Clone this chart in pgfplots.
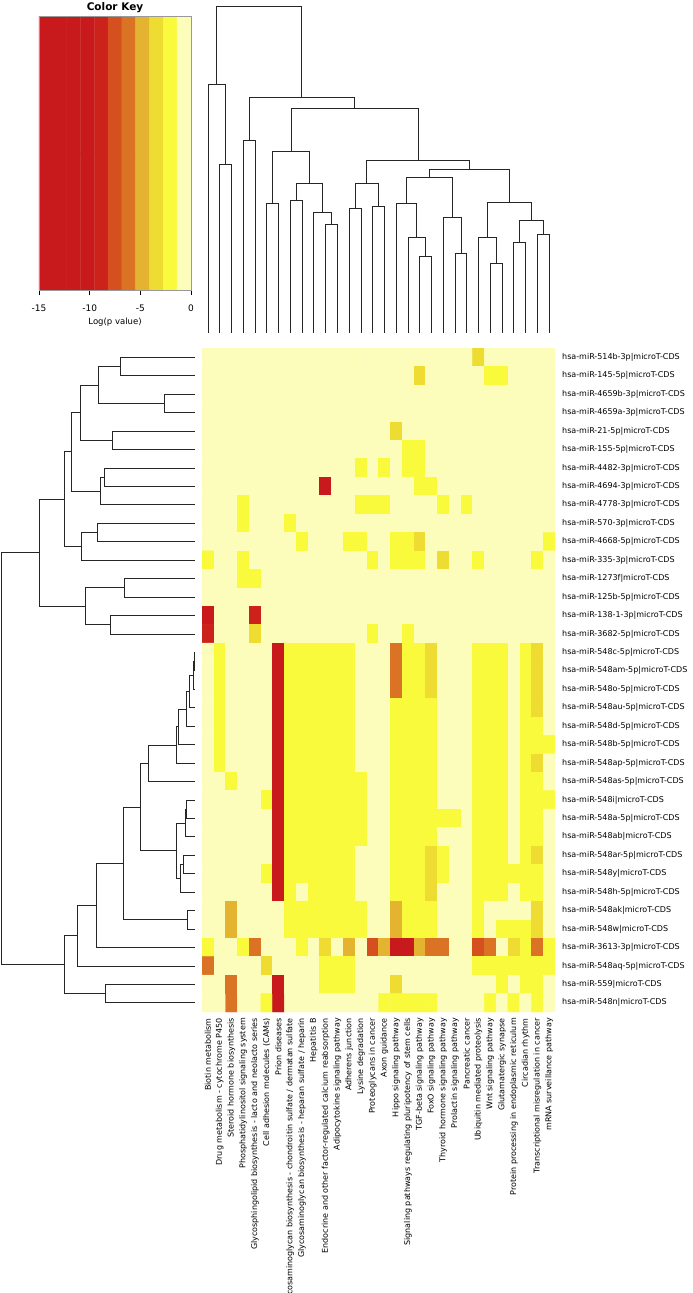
\documentclass[border=0pt]{standalone}
\usepackage{fontspec}
\setmainfont{DejaVu Sans}
\usepackage{pgfplots}
\pgfplotsset{compat=1.18}
\pgfplotsset{
  colormap={heatkey}{
    rgb255=(200,26,28) rgb255=(200,26,28) rgb255=(200,26,28) rgb255=(200,26,28)
    rgb255=(204,34,28) rgb255=(213,80,30) rgb255=(218,115,35) rgb255=(228,180,48)
    rgb255=(238,220,51) rgb255=(250,250,60) rgb255=(253,253,187)
  },
}
% heatmap values: log(p value), one row per miRNA, 30 pathways
\gdef\heatcoords{}
\newcommand\heatrow[2]{\foreach \vi [count=\ci] in {#2} {\xdef\heatcoords{\heatcoords (\ci,#1)[\vi]}}}
\heatrow{1}{0,0,0,0,0,0,0,0,0,0, 0,0,0,0,0,0,0,0,0,0, 0,0,0,-3.4,0,0,0,0,0,0}
\heatrow{2}{0,0,0,0,0,0,0,0,0,0, 0,0,0,0,0,0,0,0,-3.4,0, 0,0,0,0,-2,-2,0,0,0,0}
\heatrow{3}{0,0,0,0,0,0,0,0,0,0, 0,0,0,0,0,0,0,0,0,0, 0,0,0,0,0,0,0,0,0,0}
\heatrow{4}{0,0,0,0,0,0,0,0,0,0, 0,0,0,0,0,0,0,0,0,0, 0,0,0,0,0,0,0,0,0,0}
\heatrow{5}{0,0,0,0,0,0,0,0,0,0, 0,0,0,0,0,0,-3.4,0,0,0, 0,0,0,0,0,0,0,0,0,0}
\heatrow{6}{0,0,0,0,0,0,0,0,0,0, 0,0,0,0,0,0,0,-2,-2,0, 0,0,0,0,0,0,0,0,0,0}
\heatrow{7}{0,0,0,0,0,0,0,0,0,0, 0,0,0,-2,0,-2,0,-2,-2,0, 0,0,0,0,0,0,0,0,0,0}
\heatrow{8}{0,0,0,0,0,0,0,0,0,0, -12,0,0,0,0,0,0,0,-2,-2, 0,0,0,0,0,0,0,0,0,0}
\heatrow{9}{0,0,0,-2,0,0,0,0,0,0, 0,0,0,-2,-2,-2,0,0,0,0, -2,0,-2,0,0,0,0,0,0,0}
\heatrow{10}{0,0,0,-2,0,0,0,-2,0,0, 0,0,0,0,0,0,0,0,0,0, 0,0,0,0,0,0,0,0,0,0}
\heatrow{11}{0,0,0,0,0,0,0,0,-2,0, 0,0,-2,-2,0,0,-2,-2,-3.4,0, 0,0,0,0,0,0,0,0,0,-2}
\heatrow{12}{-2,0,0,-2,0,0,0,0,0,0, 0,0,0,0,-2,0,-2,-2,-2,0, -3.4,0,0,-2,0,0,0,0,-2,0}
\heatrow{13}{0,0,0,-2,-2,0,0,0,0,0, 0,0,0,0,0,0,0,0,0,0, 0,0,0,0,0,0,0,0,0,0}
\heatrow{14}{0,0,0,0,0,0,0,0,0,0, 0,0,0,0,0,0,0,0,0,0, 0,0,0,0,0,0,0,0,0,0}
\heatrow{15}{-12,0,0,0,-8.9,0,0,0,0,0, 0,0,0,0,0,0,0,0,0,0, 0,0,0,0,0,0,0,0,0,0}
\heatrow{16}{-9,0,0,0,-3.4,0,0,0,0,0, 0,0,0,0,-2,0,0,-2,0,0, 0,0,0,0,0,0,0,0,0,0}
\heatrow{17}{0,-2,0,0,0,0,-12,-2,-2,-2, -2,-2,-2,0,0,0,-6.1,-2,-2,-3.4, 0,0,0,-2,-2,-2,0,-2,-3.4,0}
\heatrow{18}{0,-2,0,0,0,0,-12,-2,-2,-2, -2,-2,-2,0,0,0,-6.1,-2,-2,-3.4, 0,0,0,-2,-2,-2,0,-2,-3.4,0}
\heatrow{19}{0,-2,0,0,0,0,-12,-2,-2,-2, -2,-2,-2,0,0,0,-6.1,-2,-2,-3.4, 0,0,0,-2,-2,-2,0,-2,-3.4,0}
\heatrow{20}{0,-2,0,0,0,0,-12,-2,-2,-2, -2,-2,-2,0,0,0,-2,-2,-2,-2, 0,0,0,-2,-2,-2,0,-2,-3.4,0}
\heatrow{21}{0,-2,0,0,0,0,-12,-2,-2,-2, -2,-2,-2,0,0,0,-2,-2,-2,-2, 0,0,0,-2,-2,-2,0,-2,-2,0}
\heatrow{22}{0,-2,0,0,0,0,-12,-2,-2,-2, -2,-2,-2,0,0,0,-2,-2,-2,-2, 0,0,0,-2,-2,-2,0,-2,-2,-2}
\heatrow{23}{0,-2,0,0,0,0,-12,-2,-2,-2, -2,-2,-2,0,0,0,-2,-2,-2,-2, 0,0,0,-2,-2,-2,0,-2,-3.4,0}
\heatrow{24}{0,0,-2,0,0,0,-12,-2,-2,-2, -2,-2,-2,-2,0,0,-2,-2,-2,-2, 0,0,0,-2,-2,-2,0,-2,-2,0}
\heatrow{25}{0,0,0,0,0,-2,-12,-2,-2,-2, -2,-2,-2,-2,0,0,-2,-2,-2,-2, 0,0,0,-2,-2,-2,0,-2,-2,-2}
\heatrow{26}{0,0,0,0,0,0,-12,-2,-2,-2, -2,-2,-2,-2,0,0,-2,-2,-2,-2, -2,-2,0,-2,-2,-2,0,-2,-2,0}
\heatrow{27}{0,0,0,0,0,0,-12,-2,-2,-2, -2,-2,-2,-2,0,0,-2,-2,-2,-2, 0,0,0,-2,-2,-2,0,-2,-2,0}
\heatrow{28}{0,0,0,0,0,0,-12,-2,-2,-2, -2,-2,-2,0,0,0,-2,-2,-2,-3.4, -2,0,0,-2,-2,-2,0,-2,-3.4,0}
\heatrow{29}{0,0,0,0,0,-2,-12,-2,-2,-2, -2,-2,-2,0,0,0,-2,-2,-2,-3.4, -2,0,0,-2,-2,-2,-2,-2,-2,0}
\heatrow{30}{0,0,0,0,0,0,-12,-2,0,-2, -2,-2,-2,0,0,0,-2,-2,-2,-3.4, 0,0,0,-2,-2,-2,0,-2,-2,0}
\heatrow{31}{0,0,-4.8,0,0,0,0,-2,-2,-2, -2,-2,-2,-2,0,0,-4.8,-2,-2,-2, 0,0,0,-2,0,0,0,0,-3.4,0}
\heatrow{32}{0,0,-4.8,0,0,0,0,-2,-2,-2, -2,-2,-2,-2,0,0,-4.8,-2,-2,-2, 0,0,0,-2,0,-2,-2,-2,-3.4,0}
\heatrow{33}{-2,0,0,-2,-6.1,0,0,0,-2,0, -3.4,0,-4.8,0,-7.5,-4.8,-12,-12,-4.8,-6.1, -6.1,0,0,-8,-6.1,0,-3.4,-2,-6.1,-2}
\heatrow{34}{-6.1,0,0,0,0,-3.4,0,0,0,0, -2,-2,-2,0,0,0,0,0,0,0, 0,0,0,-2,-2,-2,-2,-2,-2,-2}
\heatrow{35}{0,0,-5.5,0,0,0,-12,0,0,0, -2,-2,-2,0,0,0,-3.4,0,0,0, 0,0,0,0,0,-2,0,-2,-2,0}
\heatrow{36}{0,0,-5.5,0,0,-2,-12,0,0,0, 0,0,0,0,0,-2,-2,-2,-2,-2, 0,0,0,0,-2,0,-2,0,-2,0}
\edef\heatplot{\noexpand\addplot[matrix plot*, point meta=explicit, mesh/cols=30, mesh/rows=36] coordinates {\heatcoords};}
\begin{document}
\begin{tikzpicture}
\path[use as bounding box] (0pt,0pt) rectangle (693pt,-1293pt);
% ---------------- Color key
\begin{axis}[at={(39pt,-16pt)}, anchor=north west, scale only axis, width=152pt, height=274pt,
  xmin=-15, xmax=0, ymin=0, ymax=1, enlargelimits=false,
  colormap name=heatkey, colormap access=piecewise constant, point meta min=-15, point meta max=0,
  xtick={-15,-10,-5,0}, xticklabels={-15,-10,-5,0}, ytick=\empty,
  xtick pos=left, tick align=outside, major tick length=5pt,
  tick style={black, line width=0.5pt},
  axis line style={gray!80, line width=0.5pt},
  xticklabel style={font=\fontsize{9}{10}\selectfont, inner sep=0pt, anchor=north},
  xticklabel shift=10pt,
  xlabel={Log(p value)}, xlabel style={font=\fontsize{8.5}{9}\selectfont, inner sep=0pt, at={(axis description cs:0.5,0)}, anchor=base, yshift=-34pt},
  axis on top]
\addplot[matrix plot*, point meta=explicit, mesh/cols=11, mesh/rows=2] coordinates {
(-14.318,0.25)[-14.318] (-12.955,0.25)[-12.955] (-11.591,0.25)[-11.591] (-10.227,0.25)[-10.227] (-8.864,0.25)[-8.864] (-7.5,0.25)[-7.5] (-6.136,0.25)[-6.136] (-4.773,0.25)[-4.773] (-3.409,0.25)[-3.409] (-2.045,0.25)[-2.045] (-0.682,0.25)[-0.682]
(-14.318,0.75)[-14.318] (-12.955,0.75)[-12.955] (-11.591,0.75)[-11.591] (-10.227,0.75)[-10.227] (-8.864,0.75)[-8.864] (-7.5,0.75)[-7.5] (-6.136,0.75)[-6.136] (-4.773,0.75)[-4.773] (-3.409,0.75)[-3.409] (-2.045,0.75)[-2.045] (-0.682,0.75)[-0.682]
};
\end{axis}
\node[anchor=base, inner sep=0pt, font=\bfseries\fontsize{10.5}{12}\selectfont] at (115pt,-10pt) {Color Key};
% ---------------- Column dendrogram
\begin{axis}[at={(202pt,0pt)}, anchor=north west, scale only axis, width=353pt, height=333.33pt,
  xmin=0.5, xmax=30.5, ymin=0, ymax=1000, y dir=reverse, hide axis, clip=false, unbounded coords=jump]
\addplot[black!85, line width=0.65pt] coordinates {
(2,1000)(2,492)(3,492)(3,1000)(nan,nan)
(1,1000)(1,253)(2.5,253)(2.5,492)(nan,nan)
(4,1000)(4,421)(5,421)(5,1000)(nan,nan)
(6,1000)(6,611)(7,611)(7,1000)(nan,nan)
(8,1000)(8,600)(9,600)(9,1000)(nan,nan)
(11,1000)(11,674)(12,674)(12,1000)(nan,nan)
(10,1000)(10,637)(11.5,637)(11.5,674)(nan,nan)
(8.5,600)(8.5,551)(10.75,551)(10.75,637)(nan,nan)
(6.5,611)(6.5,453)(9.625,453)(9.625,551)(nan,nan)
(13,1000)(13,625)(14,625)(14,1000)(nan,nan)
(15,1000)(15,619)(16,619)(16,1000)(nan,nan)
(13.5,625)(13.5,550)(15.5,550)(15.5,619)(nan,nan)
(19,1000)(19,769)(20,769)(20,1000)(nan,nan)
(18,1000)(18,712)(19.5,712)(19.5,769)(nan,nan)
(17,1000)(17,609)(18.75,609)(18.75,712)(nan,nan)
(22,1000)(22,760)(23,760)(23,1000)(nan,nan)
(21,1000)(21,652)(22.5,652)(22.5,760)(nan,nan)
(17.875,609)(17.875,533)(21.75,533)(21.75,652)(nan,nan)
(25,1000)(25,790)(26,790)(26,1000)(nan,nan)
(24,1000)(24,712)(25.5,712)(25.5,790)(nan,nan)
(27,1000)(27,727)(28,727)(28,1000)(nan,nan)
(29,1000)(29,702)(30,702)(30,1000)(nan,nan)
(27.5,727)(27.5,660)(29.5,660)(29.5,702)(nan,nan)
(24.75,712)(24.75,606)(28.5,606)(28.5,660)(nan,nan)
(19.8125,533)(19.8125,508)(26.625,508)(26.625,606)(nan,nan)
(14.5,550)(14.5,482)(23.219,482)(23.219,508)(nan,nan)
(8.0625,453)(8.0625,325)(18.859,325)(18.859,482)(nan,nan)
(4.5,421)(4.5,291)(13.461,291)(13.461,325)(nan,nan)
(1.75,253)(1.75,20)(8.98,20)(8.98,291)
};
\end{axis}
% ---------------- Row dendrogram
\begin{axis}[at={(0pt,-348pt)}, anchor=north west, scale only axis, width=195pt, height=664pt,
  xmin=0, xmax=585, ymin=0.5, ymax=36.5, y dir=reverse, hide axis, clip=false, unbounded coords=jump]
\addplot[black!85, line width=0.65pt] coordinates {
(585,1)(362,1)(362,2)(585,2)(nan,nan)
(585,3)(493,3)(493,4)(585,4)(nan,nan)
(362,1.5)(296,1.5)(296,3.5)(493,3.5)(nan,nan)
(585,5)(337,5)(337,6)(585,6)(nan,nan)
(296,2.5)(242,2.5)(242,5.5)(337,5.5)(nan,nan)
(585,7)(312,7)(312,8)(585,8)(nan,nan)
(312,7.5)(300,7.5)(300,9)(585,9)(nan,nan)
(242,4)(215,4)(215,8.25)(300,8.25)(nan,nan)
(585,10)(293,10)(293,11)(585,11)(nan,nan)
(293,10.5)(245,10.5)(245,12)(585,12)(nan,nan)
(215,6.125)(193,6.125)(193,11.25)(245,11.25)(nan,nan)
(585,13)(374,13)(374,14)(585,14)(nan,nan)
(585,15)(330,15)(330,16)(585,16)(nan,nan)
(374,13.5)(255,13.5)(255,15.5)(330,15.5)(nan,nan)
(193,8.6875)(117,8.6875)(117,14.5)(255,14.5)(nan,nan)
(585,17)(583,17)(583,18)(585,18)(nan,nan)
(583,17.5)(581,17.5)(581,19)(585,19)(nan,nan)
(581,18.25)(568,18.25)(568,20)(585,20)(nan,nan)
(568,19.125)(560,19.125)(560,21)(585,21)(nan,nan)
(560,20.0625)(535,20.0625)(535,22)(585,22)(nan,nan)
(535,21.031)(529,21.031)(529,23)(585,23)(nan,nan)
(529,22.016)(446,22.016)(446,24)(585,24)(nan,nan)
(585,25)(558,25)(558,26)(585,26)(nan,nan)
(558,25.5)(556,25.5)(556,27)(585,27)(nan,nan)
(585,28)(551,28)(551,29)(585,29)(nan,nan)
(551,28.5)(540,28.5)(540,30)(585,30)(nan,nan)
(556,26.25)(529,26.25)(529,29.25)(540,29.25)(nan,nan)
(446,23.008)(422,23.008)(422,27.75)(529,27.75)(nan,nan)
(585,31)(563,31)(563,32)(585,32)(nan,nan)
(422,25.379)(369,25.379)(369,31.5)(563,31.5)(nan,nan)
(369,28.44)(290,28.44)(290,33)(585,33)(nan,nan)
(290,30.72)(233,30.72)(233,34)(585,34)(nan,nan)
(585,35)(316,35)(316,36)(585,36)(nan,nan)
(233,32.36)(193,32.36)(193,35.5)(316,35.5)(nan,nan)
(117,11.594)(5,11.594)(5,33.93)(193,33.93)
};
\end{axis}
% ---------------- Heatmap
\begin{axis}[at={(202pt,-348pt)}, anchor=north west, scale only axis, width=353pt, height=664pt,
  xmin=0.5, xmax=30.5, ymin=0.5, ymax=36.5, y dir=reverse, enlargelimits=false,
  axis line style={draw=none}, major tick length=0pt, tick style={draw=none},
  colormap name=heatkey, colormap access=piecewise constant, point meta min=-15, point meta max=0,
  xtick={1,...,30}, ytick={1,...,36},
  xticklabels={{Biotin metabolism},{Drug metabolism - cytochrome P450},{Steroid hormone biosynthesis},{Phosphatidylinositol signaling system},{Glycosphingolipid biosynthesis - lacto and neolacto series},{Cell adhesion molecules (CAMs)},{Prion diseases},{Glycosaminoglycan biosynthesis - chondroitin sulfate / dermatan sulfate},{Glycosaminoglycan biosynthesis - heparan sulfate / heparin},{Hepatitis B},{Endocrine and other factor-regulated calcium reabsorption},{Adipocytokine signaling pathway},{Adherens junction},{Lysine degradation},{Proteoglycans in cancer},{Axon guidance},{Hippo signaling pathway},{Signaling pathways regulating pluripotency of stem cells},{TGF-beta signaling pathway},{FoxO signaling pathway},{Thyroid hormone signaling pathway},{Prolactin signaling pathway},{Pancreatic cancer},{Ubiquitin mediated proteolysis},{Wnt signaling pathway},{Glutamatergic synapse},{Protein processing in endoplasmic reticulum},{Circadian rhythm},{Transcriptional misregulation in cancer},{mRNA surveillance pathway}},
  yticklabels={{hsa-miR-514b-3p|microT-CDS},{hsa-miR-145-5p|microT-CDS},{hsa-miR-4659b-3p|microT-CDS},{hsa-miR-4659a-3p|microT-CDS},{hsa-miR-21-5p|microT-CDS},{hsa-miR-155-5p|microT-CDS},{hsa-miR-4482-3p|microT-CDS},{hsa-miR-4694-3p|microT-CDS},{hsa-miR-4778-3p|microT-CDS},{hsa-miR-570-3p|microT-CDS},{hsa-miR-4668-5p|microT-CDS},{hsa-miR-335-3p|microT-CDS},{hsa-miR-1273f|microT-CDS},{hsa-miR-125b-5p|microT-CDS},{hsa-miR-138-1-3p|microT-CDS},{hsa-miR-3682-5p|microT-CDS},{hsa-miR-548c-5p|microT-CDS},{hsa-miR-548am-5p|microT-CDS},{hsa-miR-548o-5p|microT-CDS},{hsa-miR-548au-5p|microT-CDS},{hsa-miR-548d-5p|microT-CDS},{hsa-miR-548b-5p|microT-CDS},{hsa-miR-548ap-5p|microT-CDS},{hsa-miR-548as-5p|microT-CDS},{hsa-miR-548i|microT-CDS},{hsa-miR-548a-5p|microT-CDS},{hsa-miR-548ab|microT-CDS},{hsa-miR-548ar-5p|microT-CDS},{hsa-miR-548y|microT-CDS},{hsa-miR-548h-5p|microT-CDS},{hsa-miR-548ak|microT-CDS},{hsa-miR-548w|microT-CDS},{hsa-miR-3613-3p|microT-CDS},{hsa-miR-548aq-5p|microT-CDS},{hsa-miR-559|microT-CDS},{hsa-miR-548n|microT-CDS}},
  xticklabel style={rotate=90, anchor=east, inner sep=0pt, font=\fontsize{8}{9}\selectfont},
  xticklabel shift=6pt,
  yticklabel pos=right,
  yticklabel style={anchor=west, inner sep=0pt, font=\fontsize{8}{9}\selectfont},
  yticklabel shift=7pt]
\heatplot
\end{axis}
\end{tikzpicture}
\end{document}
